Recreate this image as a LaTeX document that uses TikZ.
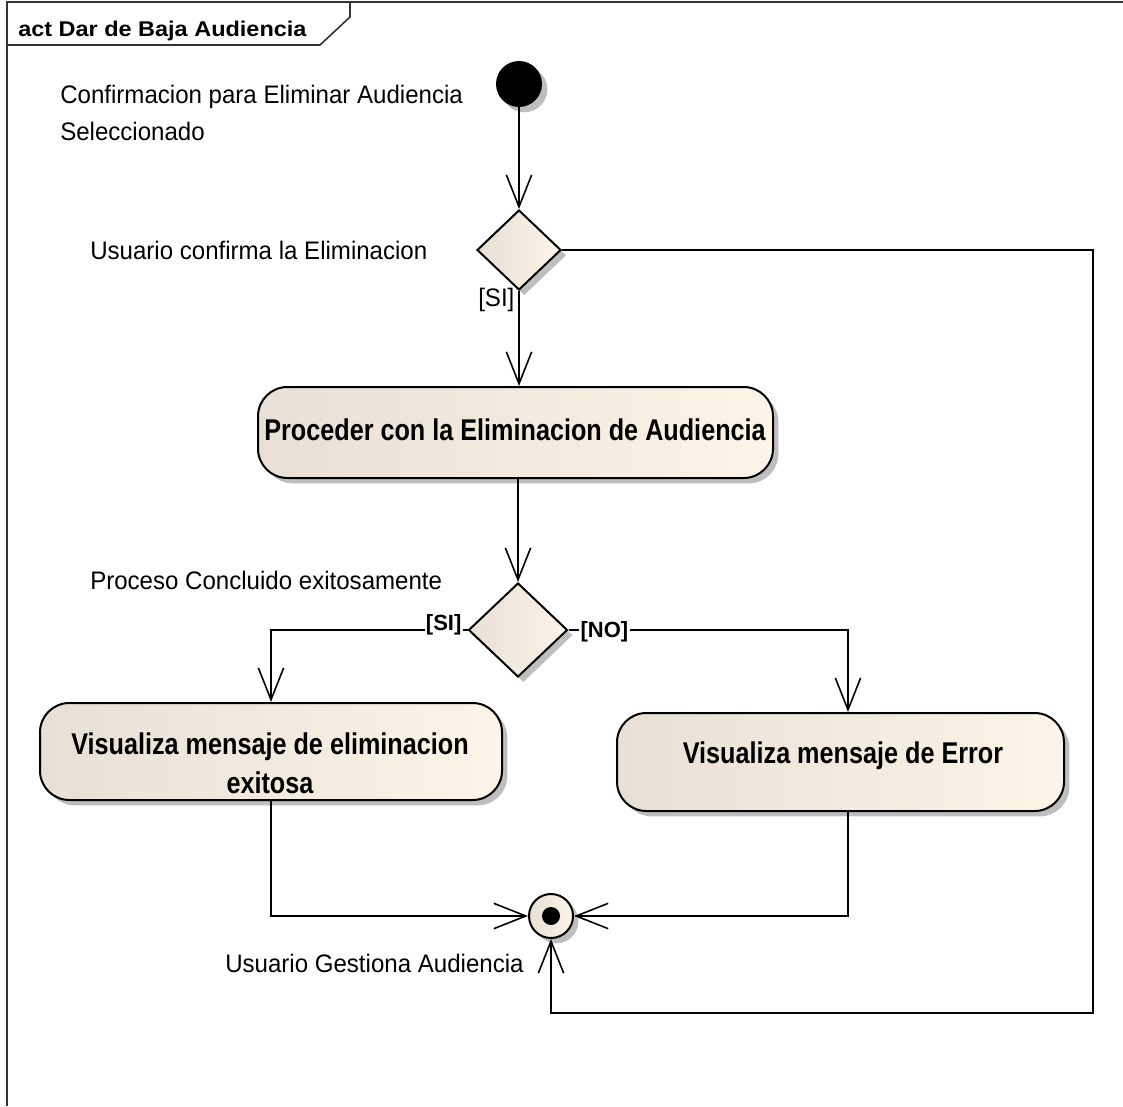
\documentclass[tikz,border=0pt]{standalone}
\usepackage{fontspec}
\setmainfont{Liberation Sans}
\newfontfamily\narrowfont[FakeStretch=0.84]{Liberation Sans}
\newfontfamily\lblfont[FakeStretch=0.95]{Liberation Sans}
\newfontfamily\titlefont[FakeStretch=1.1]{Liberation Sans}
\usetikzlibrary{shapes.geometric,arrows.meta,shadows,calc}
\definecolor{fillL}{RGB}{232,224,212}
\definecolor{fillR}{RGB}{252,244,231}
\definecolor{shadowgray}{RGB}{190,190,190}
\begin{document}
\begin{tikzpicture}[x=0.75pt,y=-0.75pt,
  shad/.style={drop shadow={shadow xshift=4pt,shadow yshift=-4pt,fill=shadowgray,opacity=1}},
  actbox/.style={draw=black,line width=1.5pt,rounded corners=22pt,left color=fillL,right color=fillR,shad,inner sep=0pt},
  decbox/.style={diamond,draw=black,line width=1.5pt,left color=fillL,right color=fillR,shad,inner sep=0pt},
  acttext/.style={font=\narrowfont\bfseries\fontsize{22.5pt}{29.25pt}\selectfont,align=center,inner sep=0pt},
  lbl/.style={font=\lblfont\fontsize{19pt}{27.75pt}\selectfont,inner sep=0pt,align=left},
  glbl/.style={font=\bfseries\fontsize{16.5pt}{20pt}\selectfont,inner sep=1pt,fill=white},
  flow/.style={line width=1.2pt,-{Straight Barb[length=24pt,width=19pt]}},
  conn/.style={line width=1.2pt}
]
\useasboundingbox (0,0) rectangle (1123,1106);
% frame
\draw[line width=1.2pt,black!80] (7,1106) -- (7,2) -- (1123,2);
\draw[line width=1.2pt,black!80] (7,45) -- (320,45) -- (350,17) -- (350,2);
\node[anchor=base west,inner sep=0pt,font=\titlefont\bfseries\fontsize{16pt}{18pt}\selectfont] (title) at (18,37) {act Dar de Baja Audiencia};

% nodes
\node[circle,fill=black,minimum size=34.5pt,inner sep=0pt,shad] (start) at (519,84) {};
\node[decbox,minimum width=63pt,minimum height=60pt] (d1) at (519,250) {};
\node[actbox,minimum width=386.25pt,minimum height=68.25pt] (act1) at (515.5,432.5) {};
\node[decbox,minimum width=74.25pt,minimum height=70.5pt] (d2) at (518,630) {};
\node[actbox,minimum width=346.5pt,minimum height=72.75pt] (act2) at (271,751.5) {};
\node[actbox,minimum width=335.25pt,minimum height=73.5pt] (act3) at (840.5,762) {};
\node[circle,draw=black,line width=1.5pt,left color=fillL,right color=fillR,minimum size=33pt,inner sep=0pt,shad] (fin) at (551,916) {};
\node[circle,fill=black,minimum size=13.5pt,inner sep=0pt] (findot) at (fin.center) {};

% node texts
\node[acttext] (t1) at (515,430) {Proceder con la Eliminacion de Audiencia};
\node[acttext,anchor=base] (t2) at (270,793) {Visualiza mensaje de eliminacion\\exitosa};
\node[acttext] (t3) at (843,756) {Visualiza mensaje de Error};

% labels
\node[lbl,anchor=north west] (conf) at (60,85) {Confirmacion para Eliminar Audiencia\\Seleccionado};
\node[lbl,anchor=base west] (ucl) at (90,259) {Usuario confirma la Eliminacion};
\node[lbl,anchor=base west] (pce) at (90,589) {Proceso Concluido exitosamente};
\node[lbl,anchor=base west] (uga) at (225,972) {Usuario Gestiona Audiencia};

% connectors
\coordinate (r1) at (1093,250);
\coordinate (r2) at (1093,1013);
\draw[flow] (start.south) -- (start.south |- d1.north);
\draw[flow] (d1.south) -- (d1.south |- act1.north);
\draw[flow] (d1.east) -- (d1.east -| r1) -- (r2) -- (r2 -| fin.south) -- (fin.south);
\draw[flow] (d2.north |- act1.south) -- (d2.north);
\draw[flow] (d2.west) -| (act2.north);
\draw[flow] (d2.east) -| ([xshift=5.6pt]act3.north);
\draw[flow] (act2.south) |- (fin.west);
\draw[flow] ([xshift=5.6pt]act3.south) |- (fin.east);

% guards
\node[lbl,anchor=base west] (g1) at (478,306) {[SI]};
\node[glbl,anchor=base east] (g2) at (463,630) {[SI]};
\node[glbl,anchor=base west] (g3) at (579,637) {[NO]};
\end{tikzpicture}
\end{document}
